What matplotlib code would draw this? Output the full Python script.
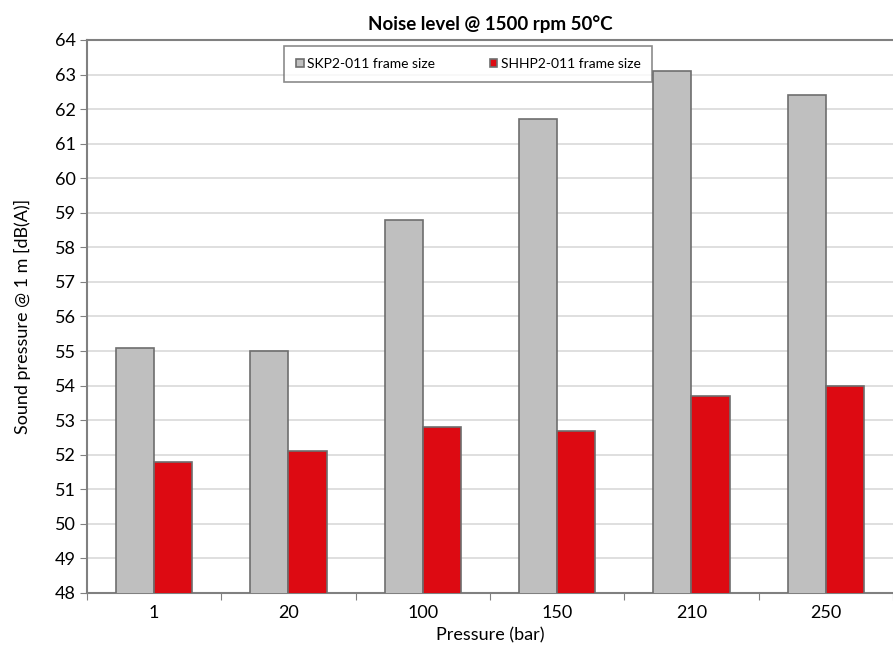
import matplotlib
matplotlib.use("Agg")
import matplotlib.pyplot as plt
import numpy as np

# chart data
pressures = ["1", "20", "100", "150", "210", "250"]
skp2_db = [55.1, 55.0, 58.8, 61.7, 63.1, 62.4]
shhp2_db = [51.8, 52.1, 52.8, 52.7, 53.7, 54.0]
series_names = ["SKP2-011 frame size", "SHHP2-011 frame size"]

plt.rcParams['font.family'] = ['Lato', 'DejaVu Sans']

fig = plt.figure(figsize=(8.93, 6.5), dpi=100)
ax = fig.add_axes([0.0974, 0.0877, 0.9026, 0.8508])

x = np.arange(len(pressures))
w = 0.284
edge = '#6e6e6e'
ax.bar(x - w / 2, skp2_db, w, color='#bfbfbf', edgecolor=edge, linewidth=1.2,
       label=series_names[0], zorder=3)
ax.bar(x + w / 2, shhp2_db, w, color='#dd0a12', edgecolor=edge, linewidth=1.2,
       label=series_names[1], zorder=3)

ax.set_ylim(48, 64)
ax.set_yticks(range(48, 65))
ax.set_xlim(-0.5, 5.43)

# ticks between categories, labels at category centres
ax.set_xticks(np.arange(-0.5, 6, 1.0))
ax.set_xticklabels([])
ax.set_xticks(x, minor=True)
ax.set_xticklabels(pressures, minor=True)
ax.tick_params(axis='x', which='minor', length=0, labelsize=13, pad=9)
ax.tick_params(axis='x', which='major', length=5, color='#808080')
ax.tick_params(axis='y', length=5, color='#808080', labelsize=13, pad=3)

ax.grid(axis='y', color='#d9d9d9', linewidth=1.2, zorder=0)
ax.set_axisbelow(True)

for s in ['left', 'bottom', 'top']:
    ax.spines[s].set_color('#808080')
    ax.spines[s].set_linewidth(1.5)
ax.spines['right'].set_visible(False)

ax.set_title("Noise level @ 1500 rpm 50°C", fontsize=13.5, fontweight='bold', pad=7)
ax.set_xlabel("Pressure (bar)", fontsize=13, labelpad=4)
ax.set_ylabel("Sound pressure @ 1 m [dB(A)]", fontsize=13, labelpad=17)

leg = ax.legend(loc='upper left', bbox_to_anchor=(0.245, 0.989), ncol=2,
                fontsize=10, frameon=True, fancybox=False, handlelength=0.55,
                handleheight=0.55, handletextpad=0.25, columnspacing=3.9,
                borderpad=0.85, borderaxespad=0)
leg.get_frame().set_edgecolor('#6e6e6e')
leg.get_frame().set_linewidth(1.2)

fig.savefig("out.png", dpi=100)
